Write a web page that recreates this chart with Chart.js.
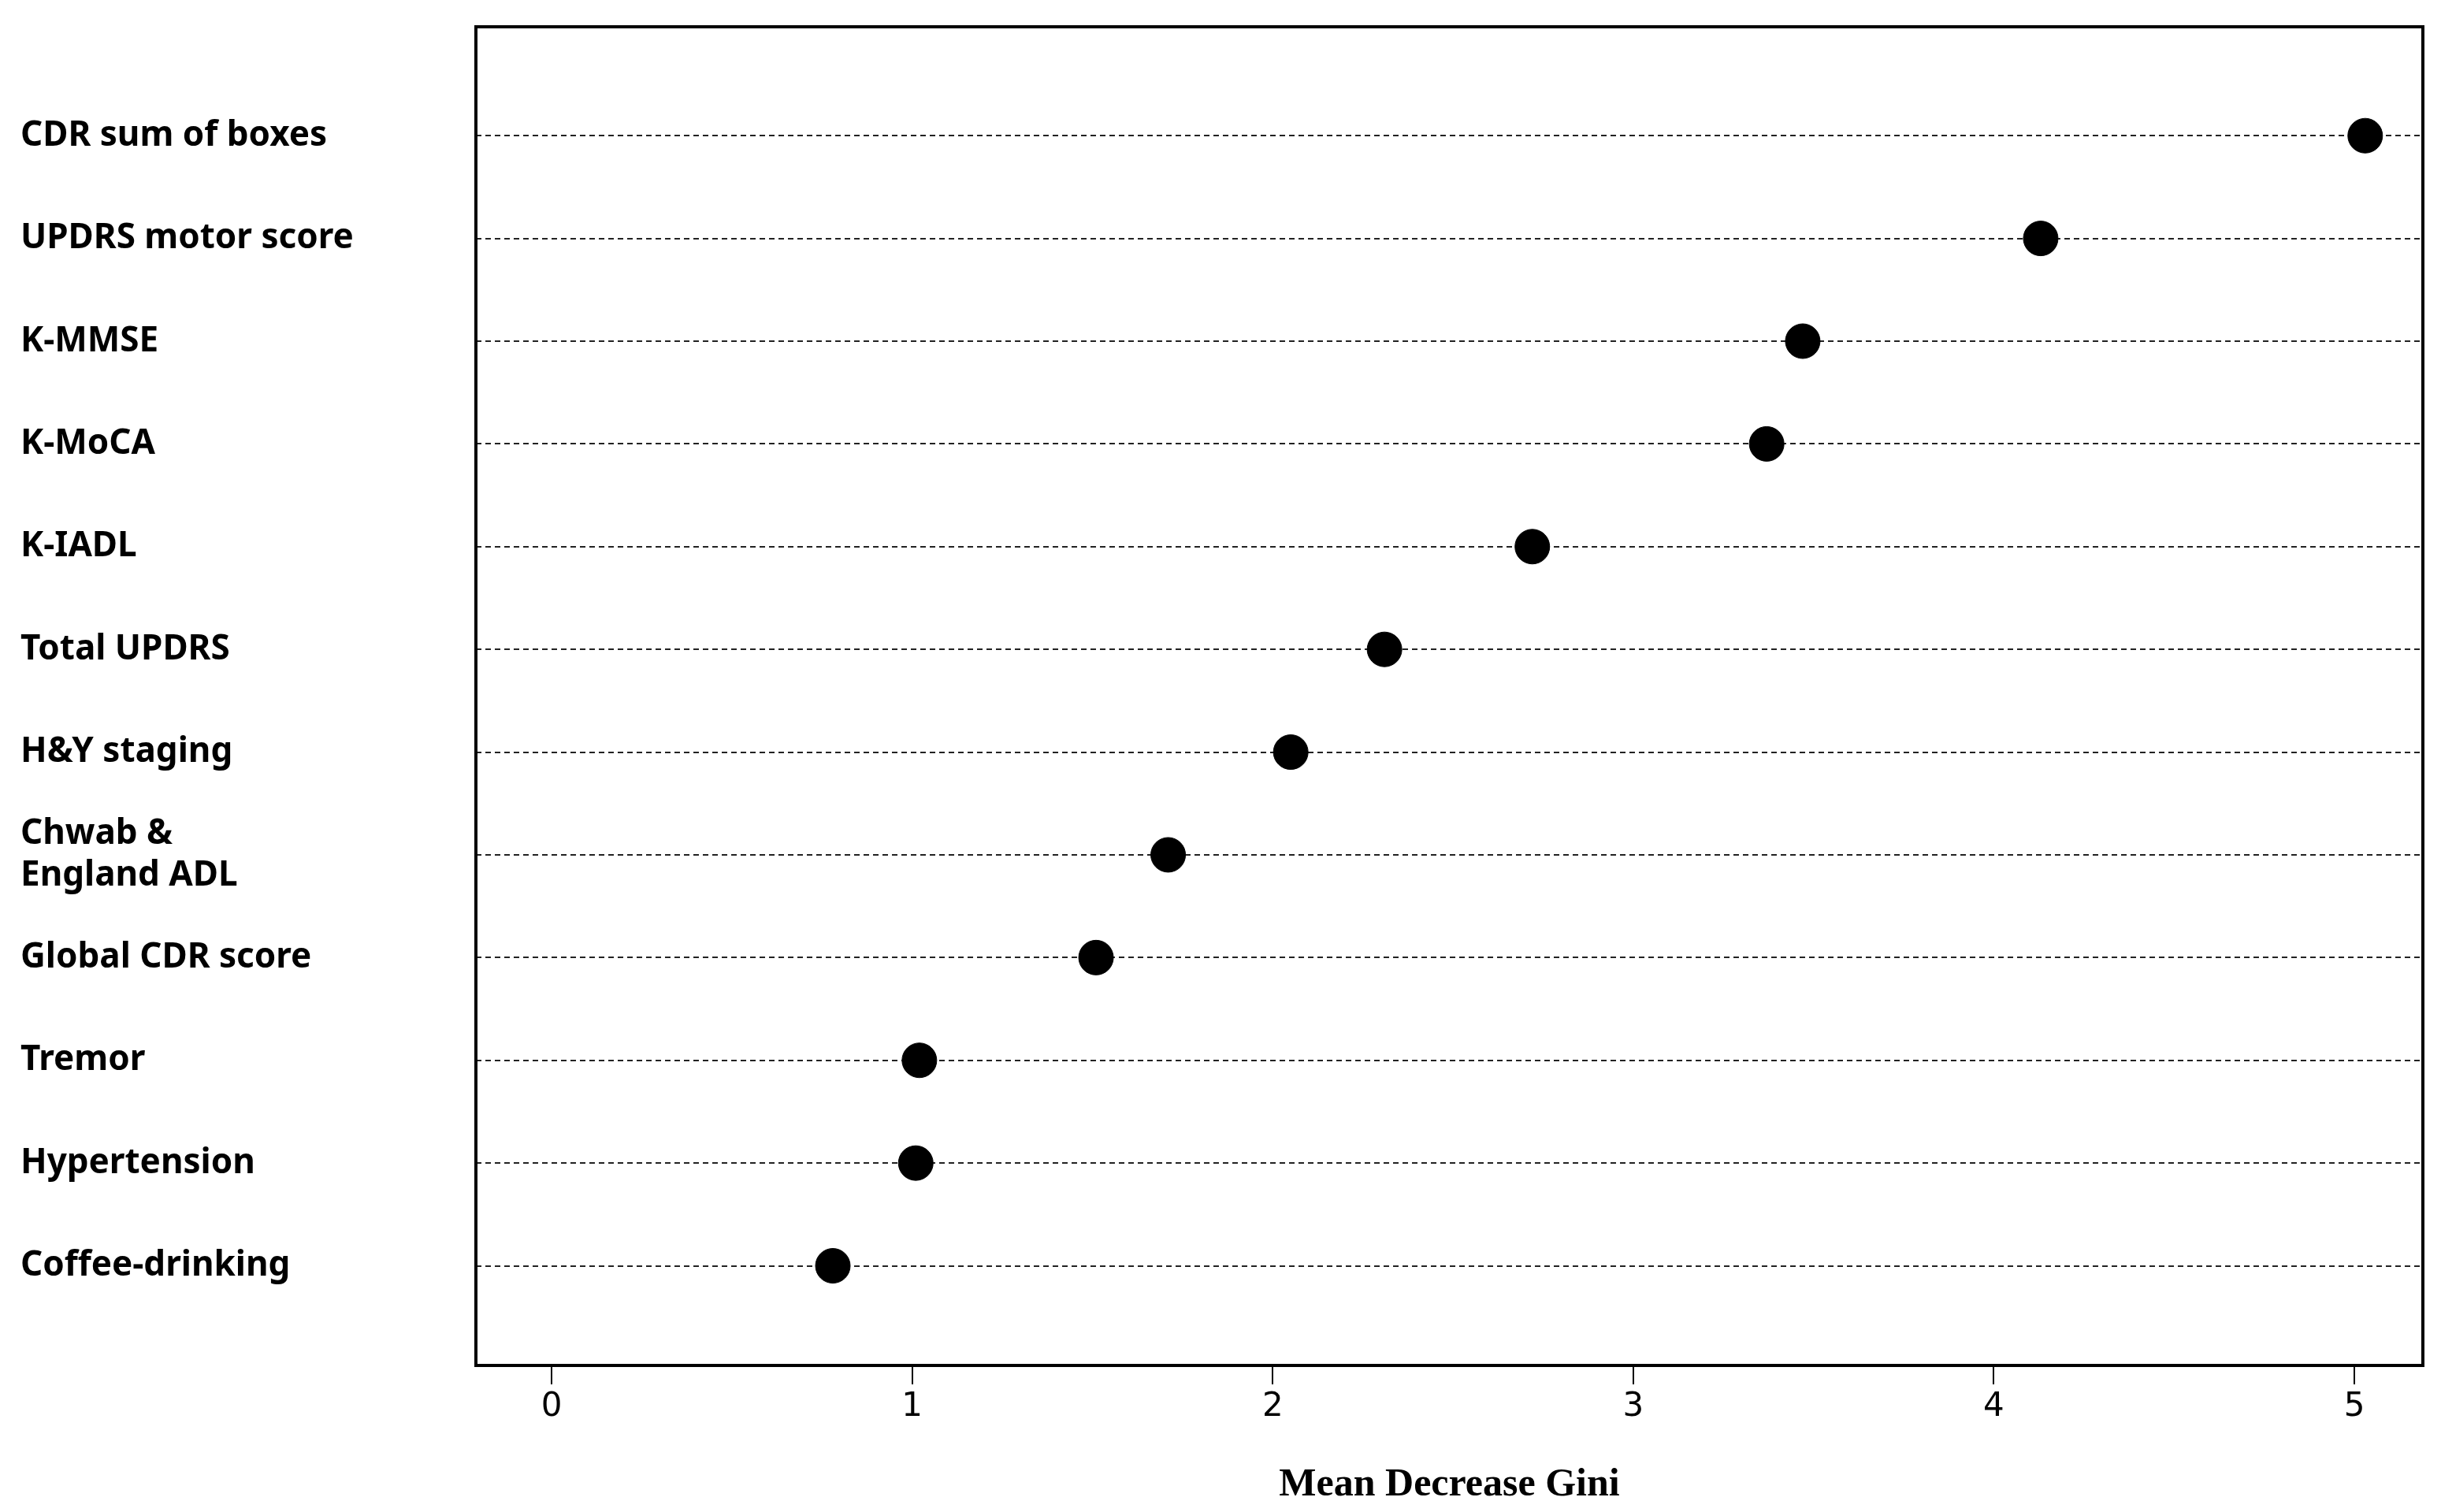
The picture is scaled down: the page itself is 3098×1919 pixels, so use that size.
<!DOCTYPE html>
<html>
<head>
<meta charset="utf-8">
<script src="https://cdn.jsdelivr.net/npm/chart.js@4/dist/chart.umd.min.js"></script>
<style>
    html, body { margin: 0; padding: 0; background: #fff; }
    #wrap { width: 3098px; height: 1919px; }
</style>
</head>
<body>
<div id="wrap"><canvas id="giniChart"></canvas></div>
<script>
// Variable names, top to bottom
const variables = [
    "CDR sum of boxes", "UPDRS motor score", "K-MMSE", "K-MoCA", "K-IADL", "Total UPDRS",
    "H&Y staging", ["Chwab &", "England ADL"], "Global CDR score", "Tremor", "Hypertension", "Coffee-drinking",
];
const giniValues = [5.03, 4.13, 3.47, 3.37, 2.72, 2.31, 2.05, 1.71, 1.51, 1.02, 1.01, 0.78];
const xTicks = [0, 1, 2, 3, 4, 5];

// Draw the black box around the plot area
const frameBox = {
    id: "frameBox",
    afterDraw(chart) {
        const { ctx, chartArea } = chart;
        ctx.save();
        ctx.strokeStyle = "#000";
        ctx.lineWidth = 4;
        ctx.strokeRect(chartArea.left, chartArea.top, chartArea.right - chartArea.left, chartArea.bottom - chartArea.top);
        ctx.restore();
    },
};

const ctx = document.getElementById("giniChart").getContext("2d");
new Chart(ctx, {
    type: "scatter",
    data: {
        datasets: [
            {
                data: giniValues.map((v, i) => ({ x: v, y: i })),
                backgroundColor: "#000",
                borderColor: "#000",
                pointRadius: 22,
                pointHoverRadius: 22,
            },
        ],
    },
    options: {
        responsive: true,
        maintainAspectRatio: false,
        animation: false,
        devicePixelRatio: 1,
        layout: { padding: { top: 34, right: 17, left: 26, bottom: 0 } },
        plugins: { legend: { display: false }, tooltip: { enabled: false } },
        scales: {
            x: {
                type: "linear",
                min: -0.21,
                max: 5.19,
                afterBuildTicks: (scale) => {
                    scale.ticks = xTicks.map((v) => ({ value: v }));
                },
                border: { display: false },
                grid: { drawOnChartArea: false, tickLength: 24, color: "#000", lineWidth: 2 },
                ticks: { font: { family: "DejaVu Sans", size: 42 }, color: "#000", padding: 4 },
                title: {
                    display: true,
                    text: "Mean Decrease Gini",
                    font: { family: "Liberation Serif", size: 50, weight: "bold" },
                    color: "#000",
                    padding: { top: 0 },
                },
                afterFit: (scale) => { scale.height = 186; },
            },
            y: {
                type: "linear",
                reverse: true,
                min: -1.06,
                max: 11.97,
                afterBuildTicks: (scale) => {
                    scale.ticks = variables.map((_, i) => ({ value: i }));
                },
                border: { display: false, dash: [7, 5] },
                grid: {
                    color: "#222",
                    lineWidth: 2,
                    drawTicks: false,
                },
                ticks: {
                    callback: (v) => variables[v],
                    crossAlign: "far",
                    padding: 0,
                    font: { family: "Noto Sans", size: 44, weight: "bold" },
                    color: "#000",
                },
                afterFit: (scale) => { scale.width = 578; },
            },
        },
    },
    plugins: [frameBox],
});
</script>
</body>
</html>
